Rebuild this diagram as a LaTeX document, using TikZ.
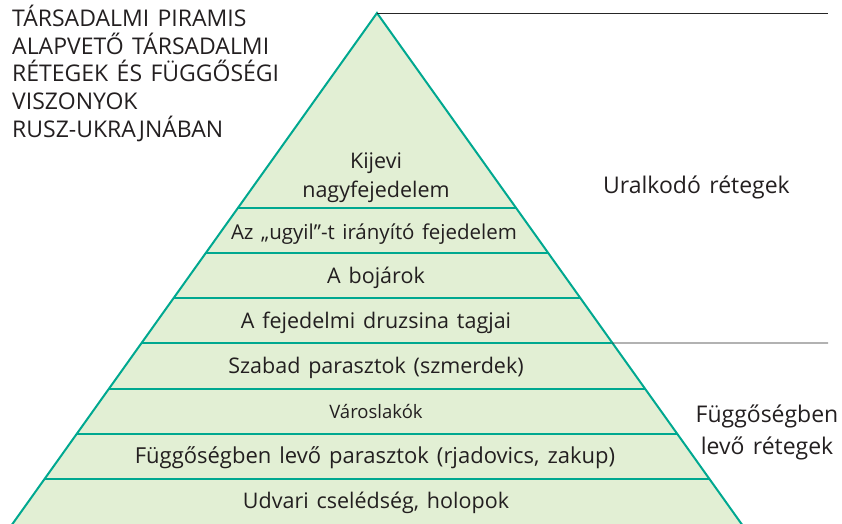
\documentclass[tikz,border=0pt]{standalone}
\usepackage{fontspec}
\setmainfont[WordSpace=1.4]{Open Sans}
\usetikzlibrary{calc}
\definecolor{pyrfill}{HTML}{E2EFD4}
\definecolor{pyrline}{HTML}{00A890}
\definecolor{txt}{HTML}{231F20}
\tikzset{
  band/.style={draw=pyrline, line width=2pt},
  lbl/.style={anchor=base, text=txt, font=\fontsize{21.5}{26}\selectfont, inner sep=0pt},
  side/.style={anchor=base west, text=txt, font=\fontsize{23}{28}\selectfont, inner sep=0pt},
  rule/.style={draw=black!85, line width=0.9pt}
}
\begin{document}
\begin{tikzpicture}[x=1pt,y=-1pt]
\useasboundingbox (0,0) rectangle (842,523);
\clip (0,0) rectangle (842,523);
\coordinate (apex) at (377,13);
\coordinate (bl) at (11,526);
\coordinate (br) at (743,526);
\fill[pyrfill] (apex) -- (br) -- (bl) -- cycle;
\foreach \t [count=\i] in {0.38235,0.47059,0.55882,0.64706,0.73725,0.82549,0.91373}{
  \coordinate (l\i) at ($(apex)!\t*510/513!(bl)$);
  \coordinate (r\i) at ($(apex)!\t*510/513!(br)$);
  \draw[band] (l\i) -- (r\i);
}
\draw[band, line join=miter] (bl) -- (apex) -- (br);
% black rules
\coordinate (t1) at (828,13);
\coordinate (t2) at (828,343);
\draw[rule] (apex) -- (t1);
\draw[rule] (r4) -- (t2);
% title
\node[side] (ti1) at (12,26.7) {TÁRSADALMI PIRAMIS};
\node[side] (ti2) at (12,54.2) {ALAPVETŐ TÁRSADALMI};
\node[side] (ti3) at (12,81.7) {RÉTEGEK ÉS FÜGGŐSÉGI};
\node[side] (ti4) at (12,109.5) {VISZONYOK};
\node[side] (ti5) at (12,137.2) {RUSZ-UKRAJNÁBAN};
% band labels
\node[lbl] (k1) at (376,168) {Kijevi};
\node[lbl] (k2) at (376,197) {nagyfejedelem};
\node[lbl, font=\fontsize{20.5}{25}\selectfont] (u) at (374,239) {Az „ugyil”-t irányító fejedelem};
\node[lbl] (b) at (376,283) {A bojárok};
\node[lbl] (d) at (376,328) {A fejedelmi druzsina tagjai};
\node[lbl] (s) at (376,373) {Szabad parasztok (szmerdek)};
\node[lbl, font=\fontsize{18.5}{22}\selectfont] (v) at (376,418) {Városlakók};
\node[lbl, font=\fontsize{22}{26}\selectfont] (f) at (375,463) {Függőségben levő parasztok (rjadovics, zakup)};
\node[lbl] (h) at (376,508) {Udvari cselédség, holopok};
% side labels
\node[side] (ur) at (603,193) {Uralkodó rétegek};
\node[lbl, font=\fontsize{23}{28}\selectfont] (fr1) at (767,422) {Függőségben};
\node[lbl, font=\fontsize{23}{28}\selectfont] (fr2) at (767,454) {levő rétegek};
\end{tikzpicture}
\end{document}
